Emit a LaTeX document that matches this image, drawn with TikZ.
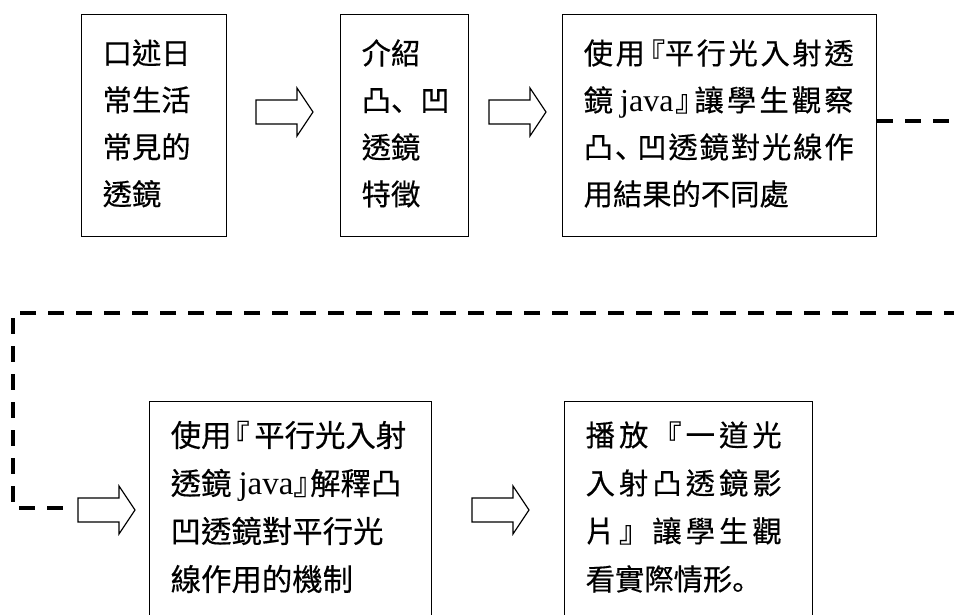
\documentclass[tikz,border=0pt]{standalone}
\usepackage{fontspec}
\newfontfamily\cjk[FakeBold=0.4]{Noto Sans CJK TC}
\newfontfamily\cjkp[FakeBold=0.4]{Noto Sans CJK SC}
\newfontfamily\lat{Liberation Serif}
\newcommand\extradepth[1]{\rule[-#1]{0pt}{#1}}
% narrow brackets: box width, character, shift
\newcommand\nbrk[3]{\makebox[#1][l]{\hspace{#3}#2}}
% justified line: width, items
\makeatletter
\newcommand\jl[2]{\makebox[#1][s]{\let\jl@sep\@empty\@tfor\jl@t:=#2\do{\jl@sep{\jl@t}\let\jl@sep\hfill}}}
\makeatother
\tikzset{
  stepbox/.style={draw, line width=1.4pt, rectangle, anchor=north west,
    inner xsep=21pt, inner ysep=0pt, align=left, minimum height=222pt},
  topfont/.style={font=\cjk\fontsize{29.3}{47}\selectfont},
  midfont/.style={font=\cjk\fontsize{30.4}{48}\selectfont},
  lowfont/.style={font=\cjk\fontsize{29.3}{48}\selectfont},
  dashline/.style={line width=3.5pt, dash pattern=on 16pt off 12pt},
  blockarrow/.pic={\draw[line width=1.2pt, line join=miter]
    (0,-12) -- (41,-12) -- (41,-24) -- (57,0) -- (41,24) -- (41,12) -- (0,12) -- cycle;}
}
\begin{document}
\begin{tikzpicture}[x=1pt,y=-1pt]
\useasboundingbox (0,0) rectangle (954,614);
\clip (0,0) rectangle (954,614);
% top row
\node[stepbox, topfont, minimum width=145pt, text width=103pt] (b1) at (81,14)
  {口述日\\常生活\\常見的\\透鏡\extradepth{7pt}};
\node[stepbox, topfont, minimum width=128pt, text width=86pt] (b2) at (340,14)
  {介紹\\凸{\cjkp 、}凹\\透鏡\\特徵\extradepth{7pt}};
\node[stepbox, topfont, minimum width=314pt, text width=272pt] (b3) at (562,14)
  {\jl{270pt}{使用{\nbrk{0.5em}{『}{-0.4em}}平行光入射透}\\
   \jl{270pt}{鏡{\hspace{4pt}\lat\fontsize{32}{47}\selectfont java}{\nbrk{0.5em}{』}{-0.05em}}讓學生觀察}\\
   \jl{270pt}{凸{\makebox[0.7em][l]{\cjkp 、}}凹透鏡對光線作}\\
   用結果的不同處\extradepth{7pt}};
% bottom row
\node[stepbox, midfont, minimum width=282pt, text width=240pt] (b4) at (149,401)
  {使用\nbrk{0.75em}{『}{-0.4em}平行光入射\\
   透鏡\hspace{7pt}{\lat\fontsize{33}{48}\selectfont java}\nbrk{0.55em}{』}{0em}解釋凸\\
   凹透鏡對平行光\\
   線作用的機制\extradepth{14pt}};
\node[stepbox, lowfont, minimum width=248pt, text width=206pt] (b5) at (564,401)
  {\jl{196pt}{播放『一道光}\\
   \jl{196pt}{入射凸透鏡影}\\
   \jl{196pt}{片』讓學生觀}\\
   看實際情形{\cjkp 。}\extradepth{14pt}};
% block arrows
\pic (a1) at (256,112) {blockarrow};
\pic (a2) at (489,112) {blockarrow};
\pic (a3) at (78,510) {blockarrow};
\pic (a4) at (472,510) {blockarrow};
% dashed connector
\coordinate (e1) at (954,121);
\coordinate (e2) at (954,313);
\coordinate (c1) at (13,313);
\coordinate (c2) at (13,508);
\coordinate (e3) at (64,508);
\draw[dashline] (e1 -| b3.east) -- (e1);
\draw[dashline, dash phase=6pt] (e2) -- (c1) -- (c2) -- (e3);
\end{tikzpicture}
\end{document}
